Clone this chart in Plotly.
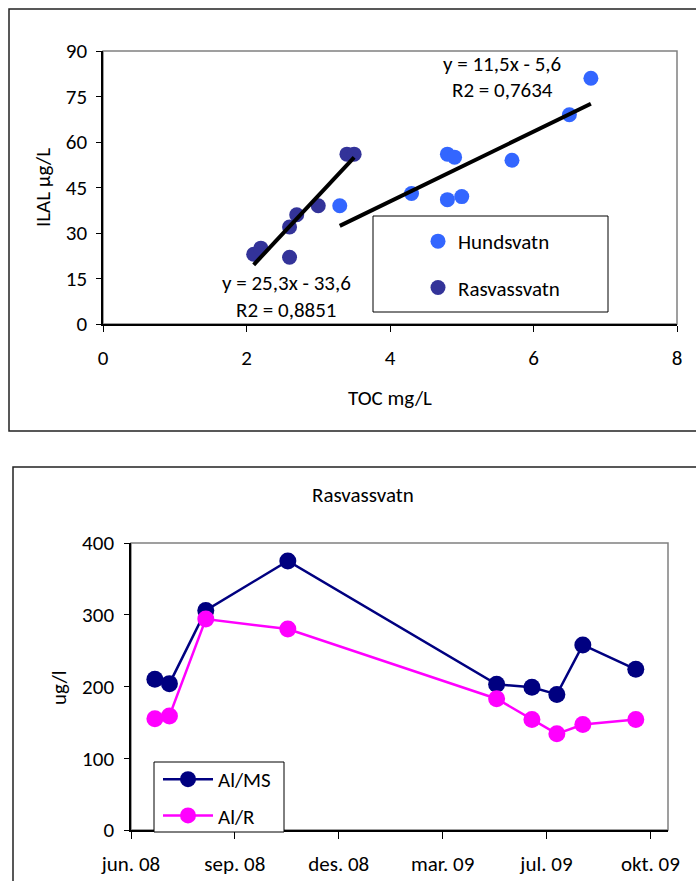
import plotly.graph_objects as go

W, H = 696, 881

# --- scatter: ILAL vs TOC ---
toc_hund = [3.3, 4.3, 4.8, 5.0, 4.8, 4.9, 5.7, 6.5, 6.8]
ilal_hund = [39, 43, 41, 42, 56, 55, 54, 69, 81]
toc_ras = [2.1, 2.2, 2.6, 2.6, 2.7, 3.0, 3.4, 3.5]
ilal_ras = [23, 25, 32, 22, 36, 39, 56, 56]

# trendline coefficients as printed on the chart
fit_hund = (11.5, -5.6, "0,7634")
fit_ras = (25.3, -33.6, "0,8851")

# --- time series: Rasvassvatn ---
dates = ["2008-06-24", "2008-07-08", "2008-08-12", "2008-10-30", "2009-05-19",
         "2009-06-22", "2009-07-16", "2009-08-10", "2009-09-30"]
al_ms = [210, 204, 306, 375, 203, 199, 189, 258, 224]
al_r = [155, 159, 294, 280, 183, 154, 134, 147, 154]
tick_dates = ["2008-06-01", "2008-09-09", "2008-12-18", "2009-03-28", "2009-07-06", "2009-10-14"]
tick_text = ["jun. 08", "sep. 08", "des. 08", "mar. 09", "jul. 09", "okt. 09"]

FONT = "Carlito, Lato, sans-serif"
FS = 21


def px(x):
    return x / W


def py(y):
    return 1 - y / H


def fmt(v):
    return f"{v:.1f}".replace(".", ",")


fig = go.Figure()

fig.add_trace(go.Scatter(x=toc_hund, y=ilal_hund, mode="markers", name="Hundsvatn",
                         marker=dict(color="#3366FF", size=15), legend="legend", legendgroup="h"))
fig.add_trace(go.Scatter(x=toc_ras, y=ilal_ras, mode="markers", name="Rasvassvatn",
                         marker=dict(color="#333399", size=15), legend="legend", legendgroup="r"))

for xs, (a, b, _) in [(toc_hund, fit_hund), (toc_ras, fit_ras)]:
    x0, x1 = min(xs), max(xs)
    fig.add_trace(go.Scatter(x=[x0, x1], y=[a * x0 + b, a * x1 + b], mode="lines",
                             line=dict(color="black", width=4), showlegend=False, hoverinfo="skip"))

fig.add_trace(go.Scatter(x=dates, y=al_ms, mode="lines+markers", name="Al/MS", xaxis="x2", yaxis="y2",
                         line=dict(color="#000080", width=2.5), marker=dict(color="#000080", size=17),
                         legend="legend2", legendgroup="ms"))
fig.add_trace(go.Scatter(x=dates, y=al_r, mode="lines+markers", name="Al/R", xaxis="x2", yaxis="y2",
                         line=dict(color="#FF00FF", width=2.5), marker=dict(color="#FF00FF", size=17),
                         legend="legend2", legendgroup="r2"))

axis_common = dict(showgrid=False, zeroline=False, showline=True, linecolor="black", linewidth=1.5,
                   automargin=False, ticks="outside", tickcolor="black",
                   tickfont=dict(size=FS, color="black"))

fig.update_layout(
    width=W, height=H,
    margin=dict(l=0, r=0, t=0, b=0),
    paper_bgcolor="white", plot_bgcolor="white",
    font=dict(family=FONT, size=FS, color="black"),
    xaxis=dict(domain=[px(103), px(677)], anchor="y", range=[0, 8], dtick=2,
               ticklen=6, ticklabelstandoff=8, **axis_common),
    yaxis=dict(domain=[py(324), py(51)], anchor="x", range=[0, 90], dtick=15,
               ticklen=5, ticklabelstandoff=5, **axis_common),
    xaxis2=dict(domain=[px(131), px(668)], anchor="y2", type="date",
                range=["2008-06-01", "2009-10-31"], tickmode="array",
                tickvals=tick_dates, ticktext=tick_text,
                ticklen=7, ticklabelstandoff=7, **axis_common),
    yaxis2=dict(domain=[py(830), py(543)], anchor="x2", range=[0, 400], dtick=100,
                ticklen=5, ticklabelstandoff=6, **axis_common),
    legend=dict(x=px(418), y=py(221), xanchor="left", yanchor="top", bgcolor="rgba(0,0,0,0)",
                borderwidth=0, tracegroupgap=16, font=dict(size=FS)),
    legend2=dict(x=px(158), y=py(759), xanchor="left", yanchor="top", bgcolor="rgba(0,0,0,0)",
                 borderwidth=0, tracegroupgap=6, itemwidth=50, font=dict(size=FS)),
    showlegend=True,
)

shapes = [
    # outer chart frames
    dict(type="rect", xref="paper", yref="paper", x0=px(9), x1=px(720), y0=py(431), y1=py(9),
         line=dict(color="#222222", width=1.5), layer="below"),
    dict(type="rect", xref="paper", yref="paper", x0=px(13), x1=px(720), y0=py(900), y1=py(467),
         line=dict(color="#222222", width=1.5), layer="below"),
    # plot area borders
    dict(type="rect", xref="x domain", yref="y domain", x0=0, x1=1, y0=0, y1=1,
         line=dict(color="#808080", width=1.5), layer="below"),
    dict(type="rect", xref="x2 domain", yref="y2 domain", x0=0, x1=1, y0=0, y1=1,
         line=dict(color="#808080", width=1.5), layer="below"),
    # legend boxes
    dict(type="rect", xref="paper", yref="paper", x0=px(373), x1=px(608), y0=py(312), y1=py(216),
         line=dict(color="black", width=1), fillcolor="white", layer="above"),
    dict(type="rect", xref="paper", yref="paper", x0=px(154), x1=px(284), y0=py(832), y1=py(762),
         line=dict(color="black", width=1), fillcolor="white", layer="above"),
]
fig.update_layout(shapes=shapes)

ann = []


def text(x, y, s, angle=0):
    ann.append(dict(x=px(x), y=py(y), xref="paper", yref="paper", text=s, showarrow=False,
                    xanchor="center", yanchor="middle", textangle=angle, font=dict(size=FS)))


text(502, 64, f"y = {fmt(fit_hund[0])}x - {fmt(-fit_hund[1])}")
text(502, 90, f"R2 = {fit_hund[2]}")
text(286, 283, f"y = {fmt(fit_ras[0])}x - {fmt(-fit_ras[1])}")
text(286, 310, f"R2 = {fit_ras[2]}")
text(390, 398, "TOC mg/L")
text(43, 188, "ILAL µg/L", angle=-90)
text(363, 495, "Rasvassvatn")
text(59, 687, "ug/l", angle=-90)
fig.update_layout(annotations=ann)

# page margin off so the 696x881 figure fills the window exactly
fig.write_html("out.html", config={"displayModeBar": False},
               post_script="document.body.style.margin='0';document.body.style.overflow='hidden';")
